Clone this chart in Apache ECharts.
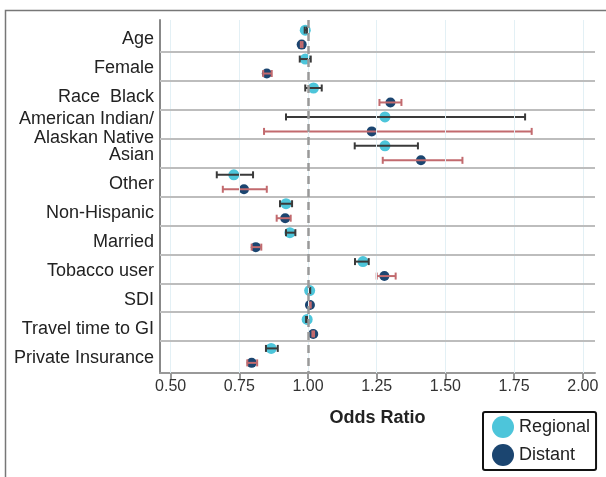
<!DOCTYPE html>
<html>
<head>
<meta charset="utf-8">
<script src="https://cdn.jsdelivr.net/npm/echarts@6/dist/echarts.min.js"></script>
<style>
html,body{margin:0;padding:0;background:#fff;}
#chart{width:606px;height:477px;}
</style>
</head>
<body>
<div id="chart"></div>
<script>
const categories = ['Age', 'Female', 'Race  Black', 'American Indian/\nAlaskan Native', 'Asian', 'Other',
  'Non-Hispanic', 'Married', 'Tobacco user', 'SDI', 'Travel time to GI', 'Private Insurance'];

const regionalOR = [0.99, 0.99, 1.02, 1.28, 1.28, 0.73, 0.92, 0.934, 1.20, 1.006, 0.997, 0.866];
const regionalLo = [0.988, 0.97, 0.99, 0.92, 1.17, 0.668, 0.898, 0.92, 1.171, 1.004, 0.993, 0.847];
const regionalHi = [0.996, 1.01, 1.05, 1.79, 1.40, 0.80, 0.942, 0.954, 1.221, 1.008, 0.999, 0.89];

const distantOR = [0.977, 0.85, 1.30, 1.232, 1.411, 0.767, 0.917, 0.81, 1.278, 1.007, 1.019, 0.795];
const distantLo = [0.974, 0.837, 1.26, 0.84, 1.272, 0.69, 0.886, 0.795, 1.25, 1.004, 1.016, 0.779];
const distantHi = [0.98, 0.868, 1.34, 1.814, 1.562, 0.85, 0.937, 0.83, 1.319, 1.01, 1.022, 0.815];

const xTicks = [0.5, 0.75, 1.0, 1.25, 1.5, 1.75, 2.0];
const refValue = 1.0;

const REG_COLOR = '#4DC5DA';
const DIS_COLOR = '#1B4570';
const REG_BAR = '#3a3a3a';
const DIS_BAR = '#c26a6e';
const FONT = '"Liberation Sans", Arial, Helvetica, sans-serif';

const regOffset = 0.25, disOffset = 0.75;

const labelValues = categories.map((c, i) => i + 0.57 + (c.indexOf('\n') >= 0 ? 0.08 : 0));

function errBarRender(color) {
  return function (params, api) {
    const lo = api.value(0), hi = api.value(1), y = api.value(2);
    const p1 = api.coord([lo, y]);
    const p2 = api.coord([hi, y]);
    const h = 3.5;
    const st = { stroke: color, lineWidth: 2 };
    return {
      type: 'group',
      children: [
        { type: 'line', shape: { x1: p1[0], y1: p1[1], x2: p2[0], y2: p2[1] }, style: st },
        { type: 'line', shape: { x1: p1[0], y1: p1[1] - h, x2: p1[0], y2: p1[1] + h }, style: st },
        { type: 'line', shape: { x1: p2[0], y1: p2[1] - h, x2: p2[0], y2: p2[1] + h }, style: st }
      ]
    };
  };
}

const chart = echarts.init(document.getElementById('chart'), null, { renderer: 'canvas' });

const separators = [];
for (let i = 1; i < categories.length; i++) separators.push({ yAxis: i });

const option = {
  animation: false,
  backgroundColor: '#fff',
  textStyle: { fontFamily: FONT },
  graphic: [{
    type: 'rect', z: -10,
    shape: { x: 5.5, y: 10.5, width: 640, height: 520 },
    style: { fill: 'none', stroke: '#777', lineWidth: 1.5 }
  }],
  grid: { left: 160, right: 11, top: 20, bottom: 104, containLabel: false },
  legend: {
    orient: 'vertical',
    left: 483, top: 412,
    data: ['Regional', 'Distant'],
    icon: 'circle',
    itemWidth: 22, itemHeight: 22,
    itemGap: 6,
    padding: [4, 6, 4, 9],
    borderColor: '#111', borderWidth: 2, borderRadius: 2,
    textStyle: { fontSize: 18, color: '#222', fontFamily: FONT }
  },
  xAxis: {
    type: 'value',
    min: 0.4614, max: 2.0444,
    name: 'Odds Ratio',
    nameLocation: 'middle',
    nameGap: 36,
    nameTextStyle: { fontSize: 18, fontWeight: 'bold', color: '#222', fontFamily: FONT },
    axisLine: { show: true, onZero: false, lineStyle: { color: '#999', width: 2 } },
    axisTick: { show: true, customValues: xTicks, length: 6, lineStyle: { color: '#999', width: 2 } },
    axisLabel: {
      customValues: xTicks, fontSize: 16, color: '#333', margin: 6, fontFamily: FONT,
      formatter: v => v.toFixed(2)
    },
    splitLine: { show: false }
  },
  yAxis: {
    type: 'value',
    min: -0.1, max: 12.1,
    inverse: true,
    axisLine: { show: true, onZero: false, lineStyle: { color: '#888', width: 2 } },
    axisTick: { show: false },
    axisLabel: {
      customValues: labelValues,
      fontSize: 18, color: '#222', margin: 6, lineHeight: 19, fontFamily: FONT,
      formatter: v => categories[Math.floor(v)] || ''
    },
    splitLine: { show: false }
  },
  series: [
    {
      name: 'grid-lines', type: 'scatter', data: [], silent: true, z: 0,
      markLine: {
        silent: true, symbol: 'none', animation: false,
        label: { show: false },
        lineStyle: { color: '#e3f0f5', width: 1, type: 'solid' },
        data: xTicks.map(v => ({ xAxis: v }))
      }
    },
    {
      name: 'separators', type: 'scatter', data: [], silent: true, z: 1,
      markLine: {
        silent: true, symbol: 'none', animation: false,
        label: { show: false },
        lineStyle: { color: '#bdbdbd', width: 2, type: 'solid' },
        data: separators
      }
    },
    {
      name: 'reference', type: 'scatter', data: [], silent: true, z: 1,
      markLine: {
        silent: true, symbol: 'none', animation: false,
        label: { show: false },
        lineStyle: { color: '#999', width: 2.5, type: [8, 5] },
        data: [{ xAxis: refValue }]
      }
    },
    {
      name: 'Regional', type: 'scatter', z: 3,
      symbol: 'circle', symbolSize: 11,
      itemStyle: { color: REG_COLOR, opacity: 1 },
      data: regionalOR.map((v, i) => [v, i + regOffset])
    },
    {
      name: 'Distant', type: 'scatter', z: 3,
      symbol: 'circle', symbolSize: 10,
      itemStyle: { color: DIS_COLOR, opacity: 1 },
      data: distantOR.map((v, i) => [v, i + disOffset])
    },
    {
      name: 'regional-ci', type: 'custom', z: 4, silent: true,
      renderItem: errBarRender(REG_BAR),
      encode: { x: [0, 1], y: 2 },
      data: regionalLo.map((lo, i) => [lo, regionalHi[i], i + regOffset])
    },
    {
      name: 'distant-ci', type: 'custom', z: 4, silent: true,
      renderItem: errBarRender(DIS_BAR),
      encode: { x: [0, 1], y: 2 },
      data: distantLo.map((lo, i) => [lo, distantHi[i], i + disOffset])
    }
  ]
};
chart.setOption(option);
</script>
</body>
</html>
